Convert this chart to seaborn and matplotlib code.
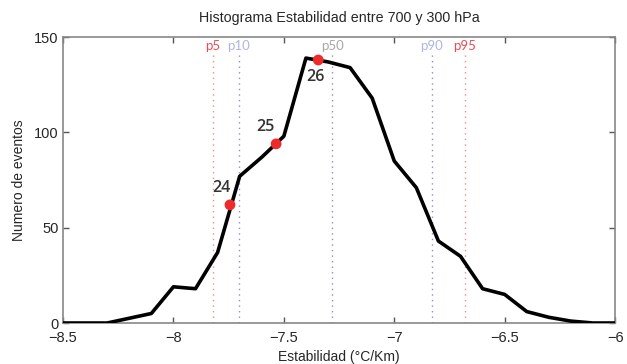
import numpy as np
import pandas as pd
import matplotlib
matplotlib.use("Agg")
import matplotlib.pyplot as plt
import seaborn as sns

# Data
estabilidad = [-8.5, -8.4, -8.3, -8.2, -8.1, -8.0, -7.9, -7.8, -7.7, -7.6, -7.5, -7.4, -7.3,
               -7.2, -7.1, -7.0, -6.9, -6.8, -6.7, -6.6, -6.5, -6.4, -6.3, -6.2, -6.1, -6.0]
eventos = [0, 0, 0, 2.5, 5, 19, 18, 37, 77, 87, 98, 139, 137,
           134, 118, 85, 71, 43, 35, 18, 15, 6, 3, 1, 0, 0]

punto_x = [-7.744, -7.535, -7.344]
punto_y = [62, 94, 138]
punto_lbl = ["24", "25", "26"]

pct_names = ["p5", "p10", "p50", "p90", "p95"]
pct_vals = [-7.82, -7.705, -7.28, -6.83, -6.68]
pct_line_colors = ["#f08a8a", "#8a8ee0", "#8a90c8", "#8a8ee0", "#f08a8a"]
pct_text_colors = ["#ee4a50", "#b0b4e4", "#a8a8a8", "#b0b4e4", "#ee4a50"]

xticks = [-8.5, -8, -7.5, -7, -6.5, -6]
xticklabels = ["\u22128.5", "\u22128", "\u22127.5", "\u22127", "\u22126.5", "\u22126"]
yticks = [0, 50, 100, 150]

sns.set_style("white")
plt.rcParams['font.family'] = ['Liberation Sans', 'DejaVu Sans']

fig = plt.figure(figsize=(6.27, 3.64), dpi=100)
ax = fig.add_axes([0.1005, 0.1126, 0.8805, 0.7854])

# percentile lines
for name, v, lc, tc in zip(pct_names, pct_vals, pct_line_colors, pct_text_colors):
    ax.plot([v, v], [0, 142.5], linestyle=(0, (1, 3)), color=lc, lw=1.0, zorder=1)
    ax.text(v, 145.5, name, color=tc, ha="center", va="center", fontsize=9.5,
            family=["Lato", "DejaVu Sans"], zorder=2)

df = pd.DataFrame({"x": estabilidad, "y": eventos})
sns.lineplot(data=df, x="x", y="y", ax=ax, color="black", lw=2.6, zorder=3)

dp = pd.DataFrame({"x": punto_x, "y": punto_y})
sns.scatterplot(data=dp, x="x", y="y", ax=ax, color="#ee2a2a", s=60, edgecolor="none", zorder=4)

offsets = [(-0.04, 9), (-0.05, 9), (-0.015, -9)]
for x, y, t, (dx, dy) in zip(punto_x, punto_y, punto_lbl, offsets):
    ax.text(x + dx, y + dy, t, ha="center", va="center", fontsize=11.5, color="#333333",
            family=["Open Sans", "DejaVu Sans"], fontweight="semibold", zorder=5)

ax.set_xlim(-8.5, -6)
ax.set_ylim(0, 150)
ax.set_xticks(xticks)
ax.set_xticklabels(xticklabels)
ax.set_yticks(yticks)
ax.tick_params(direction="in", length=4, width=1, color="#555555", labelsize=10.5,
               top=True, right=True, bottom=True, left=True, pad=3)
ax.tick_params(axis="x", pad=6)
for sp in ax.spines.values():
    sp.set_visible(True)
    sp.set_color("#888888")
    sp.set_linewidth(1.2)

ax.set_xlabel("Estabilidad (°C/Km)", fontsize=10, labelpad=3)
ax.set_ylabel("Numero de eventos", fontsize=10, labelpad=6)
ax.set_title("Histograma Estabilidad entre 700 y 300 hPa", fontsize=10.3, pad=11)

fig.savefig("out.png", dpi=100)
